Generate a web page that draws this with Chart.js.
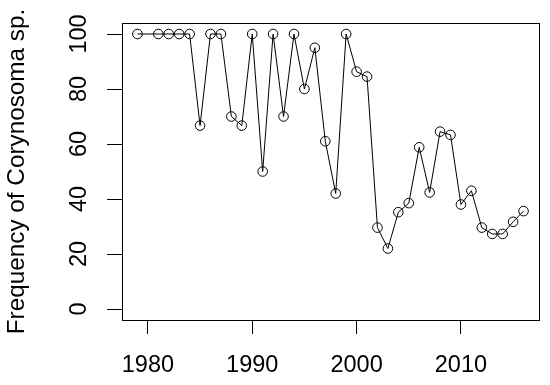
<!DOCTYPE html>
<html>
<head>
<meta charset="utf-8">
<script src="https://cdn.jsdelivr.net/npm/chart.js@4.4.0/dist/chart.umd.min.js"></script>
<style>
  html, body { margin: 0; padding: 0; background: #fff; }
</style>
</head>
<body>
<canvas id="freqChart" width="550" height="385"></canvas>
<script>
// years sampled (1980 is missing in the record)
const years = [1979, 1981, 1982, 1983, 1984, 1985, 1986, 1987, 1988, 1989,
  1990, 1991, 1992, 1993, 1994, 1995, 1996, 1997, 1998, 1999,
  2000, 2001, 2002, 2003, 2004, 2005, 2006, 2007, 2008, 2009,
  2010, 2011, 2012, 2013, 2014, 2015, 2016];
const frequency = [100, 100, 100, 100, 100, 66.7, 100, 100, 70, 66.7,
  100, 50, 100, 70, 100, 80, 95, 61, 42, 100,
  86.3, 84.5, 29.6, 22, 35.2, 38.5, 58.8, 42.4, 64.5, 63.3,
  38, 43, 29.6, 27.3, 27.3, 31.7, 35.6];
const xTicks = [1980, 1990, 2000, 2010];
const yTicks = [0, 20, 40, 60, 80, 100];

const FONT = "'Liberation Sans', Arial, sans-serif";

const canvas = document.getElementById('freqChart');
const ctx = canvas.getContext('2d');

// box around the plot region, like R's box()
const boxPlugin = {
  id: 'box',
  afterDraw(chart) {
    const a = chart.chartArea;
    const c = chart.ctx;
    c.save();
    c.strokeStyle = '#000';
    c.lineWidth = 1;
    c.strokeRect(Math.round(a.left) + 0.5, Math.round(a.top) + 0.5,
      Math.round(a.right - a.left), Math.round(a.bottom - a.top));
    c.restore();
  }
};

// y tick labels are vertical in the original
const yLabelPlugin = {
  id: 'yLabels',
  afterDraw(chart) {
    const y = chart.scales.y;
    const c = chart.ctx;
    c.save();
    c.fillStyle = '#000';
    c.font = '23.5px ' + FONT;
    c.textAlign = 'center';
    c.textBaseline = 'middle';
    y.ticks.forEach(t => {
      const py = y.getPixelForValue(t.value);
      c.save();
      c.translate(80, py);
      c.rotate(-Math.PI / 2);
      c.fillText(String(t.value), 0, 0);
      c.restore();
    });
    c.restore();
  }
};

let chart = new Chart(ctx, {
  type: 'line',
  data: {
    datasets: [{
      data: years.map((yr, i) => ({ x: yr, y: frequency[i] })),
      borderColor: '#000',
      borderWidth: 1,
      backgroundColor: 'transparent',
      pointBackgroundColor: 'transparent',
      pointBorderColor: '#000',
      pointBorderWidth: 1,
      pointRadius: 4.8,
      tension: 0,
      fill: false
    }]
  },
  options: {
    responsive: false,
    animation: false,
    devicePixelRatio: 1,
    layout: { padding: { top: 23, right: 11, left: 0, bottom: 0 } },
    plugins: {
      legend: { display: false },
      tooltip: { enabled: false }
    },
    scales: {
      x: {
        type: 'linear',
        min: 1977.52,
        max: 2017.48,
        afterBuildTicks: s => { s.ticks = xTicks.map(v => ({ value: v })); },
        afterFit: s => { s.height = 65; },
        border: { display: false },
        grid: { drawOnChartArea: false, drawTicks: true, tickLength: 14, color: '#000' },
        ticks: {
          color: '#000',
          font: { size: 23.5, family: FONT },
          padding: 17,
          maxRotation: 0,
          callback: v => String(v)
        }
      },
      y: {
        min: -4,
        max: 104,
        afterBuildTicks: s => { s.ticks = yTicks.map(v => ({ value: v })); },
        afterFit: s => { s.width = 122; },
        border: { display: false },
        grid: { drawOnChartArea: false, drawTicks: true, tickLength: 15, color: '#000' },
        ticks: { display: false },
        title: {
          display: true,
          text: 'Frequency of Corynosoma sp.',
          color: '#000',
          font: { size: 24.3, family: FONT },
          padding: { top: 3, bottom: 0 }
        }
      }
    }
  },
  plugins: [boxPlugin, yLabelPlugin]
});
</script>
</body>
</html>
